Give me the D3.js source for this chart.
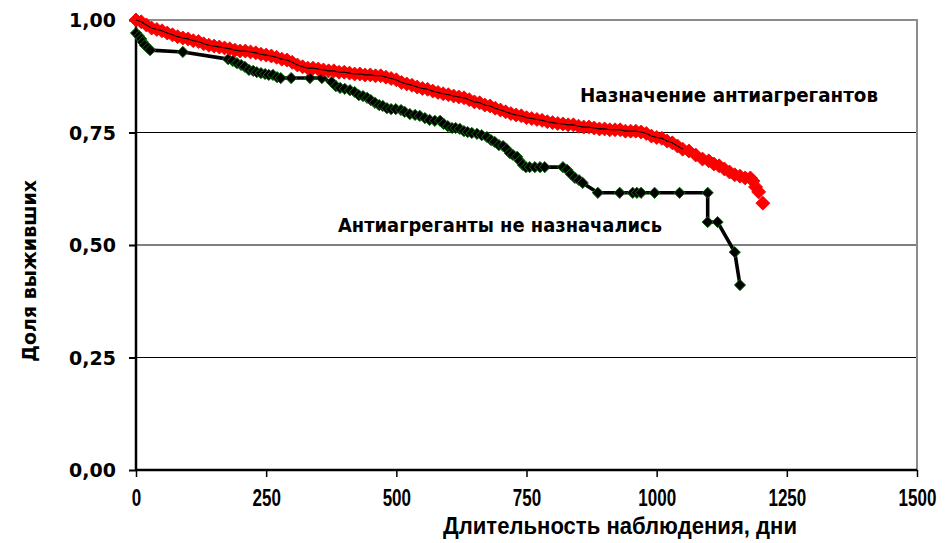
<!DOCTYPE html>
<html>
<head>
<meta charset="utf-8">
<script src="https://cdn.jsdelivr.net/npm/d3@7"></script>
<style>
  html, body { margin: 0; padding: 0; background: #fff; }
  svg { display: block; }
</style>
</head>
<body>
<svg id="chart" width="946" height="543"></svg>
<script>
// Survival curves: days of follow-up vs. share of survivors
const xTicks = [0, 250, 500, 750, 1000, 1250, 1500];
const yTicks = [0, 0.25, 0.5, 0.75, 1];
const yTickLabels = ["0,00", "0,25", "0,50", "0,75", "1,00"];

// Group treated with antiplatelet agents
const treatedDays = [0, 10, 20, 30, 40, 50, 60, 70, 80, 90, 100, 110, 120, 130, 140, 150, 160, 170, 180, 190,
  200, 210, 220, 230, 240, 250, 260, 270, 280, 290, 300, 310, 320, 330, 340, 350, 360, 370, 380, 390,
  400, 410, 420, 430, 440, 450, 460, 470, 480, 490, 500, 510, 520, 530, 540, 550, 560, 570, 580, 590,
  600, 610, 620, 630, 640, 650, 660, 670, 680, 690, 700, 710, 720, 730, 740, 750, 760, 770, 780, 790,
  800, 810, 820, 830, 840, 850, 860, 870, 880, 890, 900, 910, 920, 930, 940, 950, 960, 970, 980, 990,
  1000, 1010, 1020, 1030, 1040, 1050, 1062, 1075, 1088, 1100, 1110, 1120, 1130, 1140, 1150, 1160,
  1170, 1180, 1185, 1190, 1196, 1204];
const treatedSurv = [1.000, 0.996, 0.989, 0.982, 0.979, 0.976, 0.971, 0.967, 0.963, 0.960, 0.958, 0.954, 0.952, 0.947, 0.944, 0.942, 0.940, 0.938, 0.936, 0.933,
  0.931, 0.931, 0.929, 0.927, 0.924, 0.922, 0.920, 0.917, 0.913, 0.911, 0.906, 0.900, 0.896, 0.893, 0.893, 0.891, 0.889, 0.887, 0.887, 0.884,
  0.884, 0.882, 0.880, 0.880, 0.878, 0.878, 0.876, 0.876, 0.873, 0.870, 0.867, 0.861, 0.858, 0.855, 0.851, 0.848, 0.846, 0.842, 0.839, 0.836,
  0.834, 0.831, 0.829, 0.827, 0.823, 0.818, 0.816, 0.811, 0.809, 0.804, 0.800, 0.796, 0.792, 0.789, 0.787, 0.783, 0.781, 0.779, 0.777, 0.774,
  0.772, 0.770, 0.769, 0.767, 0.767, 0.764, 0.762, 0.762, 0.760, 0.758, 0.758, 0.756, 0.756, 0.756, 0.753, 0.753, 0.753, 0.751, 0.748, 0.742,
  0.739, 0.737, 0.731, 0.727, 0.720, 0.713, 0.709, 0.700, 0.691, 0.687, 0.680, 0.676, 0.669, 0.662, 0.656, 0.653,
  0.649, 0.649, 0.642, 0.629, 0.618, 0.593];
const treatedLineEnd = 1050; // the connecting line stops here, later points are markers only

// Group without antiplatelet agents
const untreatedDays = [0, 6, 10, 13, 17, 23, 27, 90, 177, 186, 194, 202, 209, 217, 225, 232, 240, 248, 255, 263,
  271, 278, 298, 334, 357, 376, 384, 392, 401, 411, 420, 428, 436, 444, 451, 459, 467, 474, 482, 490,
  499, 509, 516, 526, 536, 545, 555, 564, 574, 584, 591, 599, 607, 614, 622, 630, 637, 645, 655, 664,
  674, 682, 689, 697, 705, 712, 718, 724, 732, 737, 743, 749, 756, 766, 776, 785, 820, 828, 835, 843,
  851, 858, 887, 929, 954, 962, 970, 996, 1044, 1098, 1098, 1117, 1150, 1160];
const untreatedSurv = [0.971, 0.964, 0.958, 0.951, 0.944, 0.938, 0.933, 0.929, 0.913, 0.909, 0.904, 0.900, 0.896, 0.889, 0.887, 0.884, 0.882, 0.880, 0.878, 0.878,
  0.873, 0.871, 0.871, 0.871, 0.871, 0.862, 0.853, 0.849, 0.847, 0.844, 0.840, 0.833, 0.831, 0.827, 0.822, 0.816, 0.811, 0.809, 0.804, 0.802,
  0.802, 0.800, 0.796, 0.791, 0.789, 0.787, 0.782, 0.778, 0.776, 0.776, 0.769, 0.764, 0.760, 0.760, 0.758, 0.753, 0.751, 0.749, 0.747, 0.744,
  0.740, 0.733, 0.729, 0.722, 0.720, 0.713, 0.704, 0.700, 0.696, 0.687, 0.678, 0.673, 0.673, 0.673, 0.673, 0.673, 0.673, 0.667, 0.658, 0.649,
  0.644, 0.638, 0.616, 0.616, 0.616, 0.616, 0.616, 0.616, 0.616, 0.616, 0.551, 0.551, 0.484, 0.411];

const treatedLabel = "Назначение антиагрегантов";
const untreatedLabel = "Антиагреганты не назначались";
const xTitle = "Длительность наблюдения, дни";
const yTitle = "Доля выживших";

const svg = d3.select("#chart");
const plot = { left: 136, right: 917, top: 20, bottom: 470 };

const x = d3.scaleLinear().domain([0, 1500]).range([plot.left, plot.right]);
const y = d3.scaleLinear().domain([0, 1]).range([plot.bottom, plot.top]);

const treated = treatedDays.map((d, i) => ({ t: d, s: treatedSurv[i] }));
const untreated = untreatedDays.map((d, i) => ({ t: d, s: untreatedSurv[i] }));

// horizontal gridlines
svg.append("g")
  .selectAll("line")
  .data(yTicks.filter(v => v > 0 && v < 1))
  .join("line")
  .attr("x1", plot.left).attr("x2", plot.right)
  .attr("y1", d => y(d)).attr("y2", d => y(d))
  .attr("stroke", "#000").attr("stroke-width", 1);

// plot-area frame (top and right)
svg.append("path")
  .attr("d", `M${plot.left},${plot.top}H${plot.right}V${plot.bottom}`)
  .attr("fill", "none").attr("stroke", "#8c8c8c").attr("stroke-width", 2);

// axes
const yAxis = d3.axisLeft(y).tickValues(yTicks).tickSize(7).tickFormat((d, i) => yTickLabels[i]);
const xAxis = d3.axisBottom(x).tickValues(xTicks).tickSize(7).tickFormat(d3.format("d"));

const gy = svg.append("g").attr("transform", `translate(${plot.left},0)`).call(yAxis);
gy.select(".domain").attr("stroke", "#000").attr("stroke-width", 2.5).attr("d", `M0,${plot.top}V${plot.bottom}`);
gy.selectAll(".tick line").attr("stroke", "#000").attr("stroke-width", 2);
gy.selectAll(".tick text")
  .attr("x", -20)
  .attr("dy", "0.36em")
  .style("font-family", "'DejaVu Sans', Verdana, sans-serif")
  .style("font-weight", "bold")
  .style("font-size", "19px")
  .attr("fill", "#000");

const gx = svg.append("g").attr("transform", `translate(0,${plot.bottom})`).call(xAxis);
gx.select(".domain").attr("stroke", "#000").attr("stroke-width", 2.5).attr("d", `M${plot.left},0H${plot.right}`);
gx.selectAll(".tick line").attr("stroke", "#000").attr("stroke-width", 1.5);
// condensed, tall numerals: horizontally squeezed around each tick centre
gx.selectAll(".tick text")
  .attr("y", 36)
  .attr("dy", null)
  .attr("transform", "scale(0.74,1)")
  .style("font-family", "'Liberation Sans', Arial, sans-serif")
  .style("font-weight", "bold")
  .style("font-size", "23px")
  .attr("fill", "#000");

// diamond marker path
const diamond = r => `M0,${-r}L${r},0L0,${r}L${-r},0Z`;

// untreated group: thick black line with black diamonds edged in dark green
const line = d3.line().x(d => x(d.t)).y(d => y(d.s));
svg.append("path")
  .datum(untreated)
  .attr("d", line)
  .attr("fill", "none").attr("stroke", "#000").attr("stroke-width", 3.6).attr("stroke-linejoin", "round");
svg.append("g")
  .selectAll("path")
  .data(untreated)
  .join("path")
  .attr("d", diamond(5.6))
  .attr("transform", d => `translate(${x(d.t)},${y(d.s)})`)
  .attr("fill", "#000").attr("stroke", "#0b6b0b").attr("stroke-width", 1);

// treated group: red diamonds with a thin black line through them
svg.append("g")
  .selectAll("path")
  .data(treated)
  .join("path")
  .attr("d", diamond(7))
  .attr("transform", d => `translate(${x(d.t)},${y(d.s)})`)
  .attr("fill", "#ff0000").attr("stroke", "#ee0000").attr("stroke-width", 0.8);
svg.append("path")
  .datum(treated.filter(d => d.t <= treatedLineEnd))
  .attr("d", line)
  .attr("fill", "none").attr("stroke", "#000").attr("stroke-width", 1.1);

// series labels
const labelFont = sel => sel
  .style("font-family", "'DejaVu Sans', Verdana, sans-serif")
  .style("font-weight", "bold")
  .style("font-size", "19px")
  .attr("fill", "#000");

svg.append("text").attr("x", 580).attr("y", 102).text(treatedLabel).call(labelFont)
  .attr("textLength", 298).attr("lengthAdjust", "spacingAndGlyphs");
svg.append("text").attr("x", 338).attr("y", 232).text(untreatedLabel).call(labelFont)
  .attr("textLength", 324).attr("lengthAdjust", "spacingAndGlyphs");

// axis titles
svg.append("text")
  .attr("x", 443).attr("y", 534)
  .text(xTitle)
  .style("font-family", "'Liberation Sans', Arial, sans-serif")
  .style("font-weight", "bold")
  .style("font-size", "24px")
  .attr("fill", "#000")
  .attr("textLength", 354).attr("lengthAdjust", "spacingAndGlyphs");

svg.append("text")
  .attr("transform", "translate(36,271) rotate(-90)")
  .attr("text-anchor", "middle")
  .text(yTitle)
  .style("font-family", "'DejaVu Sans', Verdana, sans-serif")
  .style("font-weight", "bold")
  .style("font-size", "19px")
  .attr("fill", "#000");
</script>
</body>
</html>
